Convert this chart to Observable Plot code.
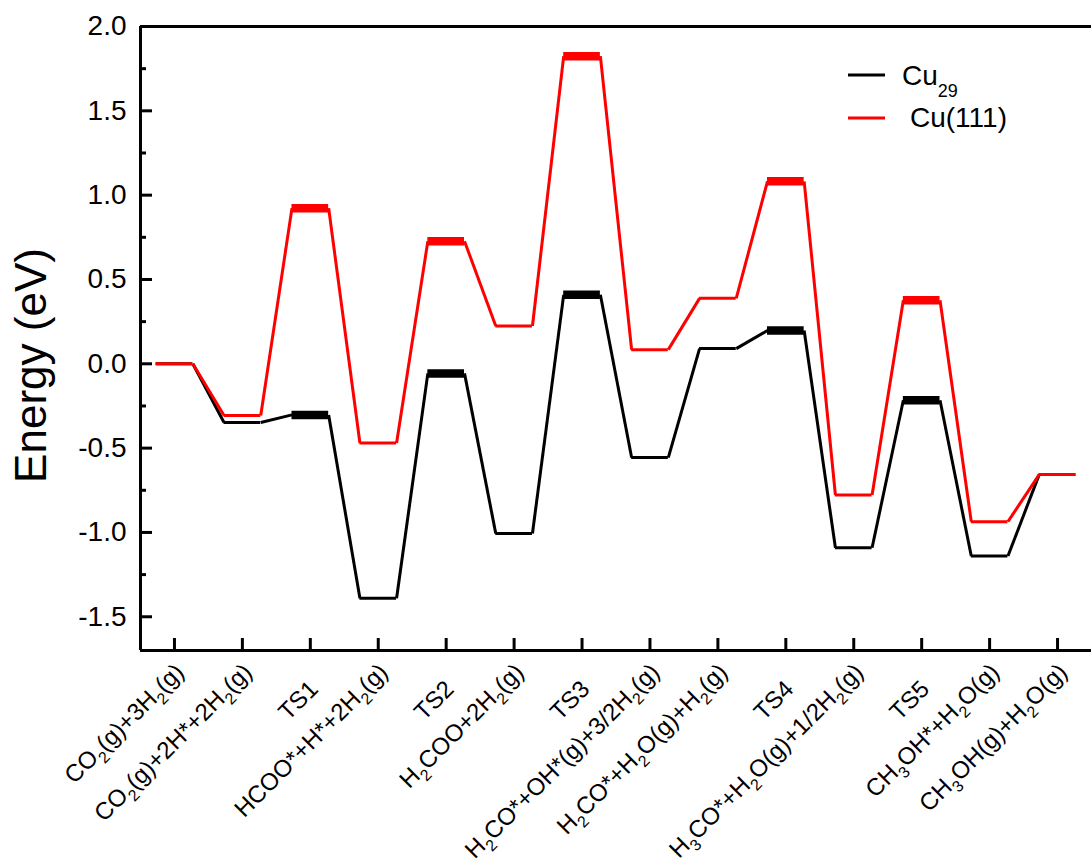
<!DOCTYPE html>
<html><head><meta charset="utf-8">
<script src="https://cdn.jsdelivr.net/npm/d3@7"></script>
<script src="https://cdn.jsdelivr.net/npm/@observablehq/plot@0.6"></script>
<style>
body{margin:0;background:#fff;}
#wrap{position:relative;width:1091px;height:865px;}
#legend{position:absolute;left:0;top:0;}
</style></head><body><div id="wrap"></div>
<script>
// ---- data ----
const states = [
  "CO_2(g)+3H_2(g)",
  "CO_2(g)+2H*+2H_2(g)",
  "TS1",
  "HCOO*+H*+2H_2(g)",
  "TS2",
  "H_2COO+2H_2(g)",
  "TS3",
  "H_2CO*+OH*(g)+3/2H_2(g)",
  "H_2CO*+H_2O(g)+H_2(g)",
  "TS4",
  "H_3CO*+H_2O(g)+1/2H_2(g)",
  "TS5",
  "CH_3OH*+H_2O(g)",
  "CH_3OH(g)+H_2O(g)"
];
const isTS = [false,false,true,false,true,false,true,false,false,true,false,true,false,false];
const cu29  = [0, -0.348, -0.303, -1.390, -0.057, -1.006, 0.409, -0.556, 0.090, 0.197, -1.091, -0.216, -1.140, -0.657];
const cu111 = [0, -0.307,  0.923, -0.470,  0.727,  0.224, 1.824,  0.084, 0.388, 1.082, -0.778,  0.377, -0.936, -0.657];
const seriesNames = ["Cu29", "Cu(111)"];
const seriesColors = ["#000000", "#ff0000"];
const yMajor = [-1.5, -1.0, -0.5, 0.0, 0.5, 1.0, 1.5, 2.0];
const yMinor = [-1.25, -0.75, -0.25, 0.25, 0.75, 1.25, 1.75];
const yTitle = "Energy (eV)";

// ---- layout / style ----
const FONT = "'Liberation Sans', Arial, Helvetica, sans-serif";
const W = 1091, H = 865, ML = 140, MR = 0, MT = 26, MB = 215;
const innerW = W - ML - MR, innerH = H - MT - MB;
const HW = 0.27;              // half width of an energy level (x units)
const xDomain = [-0.5, states.length - 0.5];
const yDomain = [-1.7, 2.0];

function levelRows(values) { return values.map((v, i) => ({i, v, ts: isTS[i]})); }
function linkRows(values) {
  return values.slice(1).map((v, k) => ({x1: k + HW, y1: values[k], x2: k + 1 - HW, y2: v}));
}
function seriesMarks(values, color) {
  const rows = levelRows(values);
  return [
    Plot.link(linkRows(values), {x1: "x1", y1: "y1", x2: "x2", y2: "y2", stroke: color, strokeWidth: 3, strokeLinecap: "butt"}),
    Plot.ruleY(rows.filter(d => !d.ts), {y: "v", x1: d => d.i - HW, x2: d => d.i + HW, stroke: color, strokeWidth: 3}),
    Plot.ruleY(rows.filter(d => d.ts), {y: "v", x1: d => d.i - HW, x2: d => d.i + HW, stroke: color, strokeWidth: 8.5})
  ];
}

const idx = states.map((_, i) => i);
const plainIdx = idx.filter(i => !states[i].includes("_"));
const subIdx = idx.filter(i => states[i].includes("_"));

const chart = Plot.plot({
  width: W, height: H,
  marginLeft: ML, marginRight: MR, marginTop: MT, marginBottom: MB,
  x: {domain: xDomain, axis: null},
  y: {domain: yDomain},
  style: {fontFamily: FONT, background: "white", color: "black", overflow: "visible"},
  marks: [
    // frame lines
    Plot.ruleX([xDomain[0]], {x: d => d, stroke: "black", strokeWidth: 3}),
    Plot.ruleY([yDomain[0]], {y: d => d, stroke: "black", strokeWidth: 3}),
    Plot.ruleY([yDomain[1]], {y: d => d, stroke: "black", strokeWidth: 3}),
    // inward ticks
    Plot.tickY(yMajor, {y: d => d, insetRight: innerW - 12, stroke: "black", strokeWidth: 3}),
    Plot.tickY(yMinor, {y: d => d, insetRight: innerW - 6, stroke: "black", strokeWidth: 3}),
    Plot.tickX(idx, {x: d => d, insetTop: innerH - 12, stroke: "black", strokeWidth: 3}),
    // y tick labels
    Plot.axisY(yMajor, {anchor: "left", tickSize: 0, tickPadding: 14, tickFormat: d => d.toFixed(1), fontSize: 28, label: null}),
    // y title
    Plot.text([yTitle], {frameAnchor: "left", rotate: -90, dx: -95, dy: 27, lineAnchor: "bottom", textAnchor: "middle", fontSize: 44, fill: "black"}),
    // x labels
    Plot.text(plainIdx, {x: d => d, text: d => states[d], frameAnchor: "bottom", rotate: -45, textAnchor: "end", lineAnchor: "bottom", dx: 9, dy: 40, fontSize: 24, fill: "black"}),
    Plot.text(subIdx, {x: d => d, text: d => states[d], frameAnchor: "bottom", rotate: -45, textAnchor: "end", lineAnchor: "bottom", dx: 11, dy: 23, fontSize: 24, fill: "black"}),
    // series
    ...seriesMarks(cu29, seriesColors[0]),
    ...seriesMarks(cu111, seriesColors[1])
  ]
});

// subscripts in labels
const SUB = 7;
d3.select(chart).selectAll("text").each(function() {
  const t = this.textContent;
  if (!t.includes("_")) return;
  const sel = d3.select(this);
  sel.text("");
  const parts = t.split(/_(\d+)/);
  let cur = 0;
  parts.forEach((p, k) => {
    if (!p) return;
    const sub = k % 2 === 1;
    const ts = sel.append("tspan").text(p);
    if (sub) { ts.attr("font-size", 16).attr("dy", SUB - cur); cur = SUB; }
    else if (cur) { ts.attr("dy", -cur); cur = 0; }
  });
});

const wrap = document.getElementById("wrap");
wrap.appendChild(chart);

// legend
const leg = d3.select(wrap).append("svg").attr("id", "legend").attr("width", W).attr("height", H)
  .style("font-family", FONT);
const legRows = [
  {y: 75, color: seriesColors[0], tx: 902, base: 85, main: "Cu", sub: "29"},
  {y: 118, color: seriesColors[1], tx: 910, base: 127, main: "Cu(111)", sub: null}
];
legRows.forEach(r => {
  leg.append("line").attr("x1", 848).attr("x2", 885).attr("y1", r.y).attr("y2", r.y)
    .attr("stroke", r.color).attr("stroke-width", 3);
  const t = leg.append("text").attr("x", r.tx).attr("y", r.base).attr("font-size", 28).attr("fill", "black");
  t.append("tspan").text(r.main);
  if (r.sub) t.append("tspan").attr("font-size", 18).attr("dy", 12).text(r.sub);
});
</script></body></html>
